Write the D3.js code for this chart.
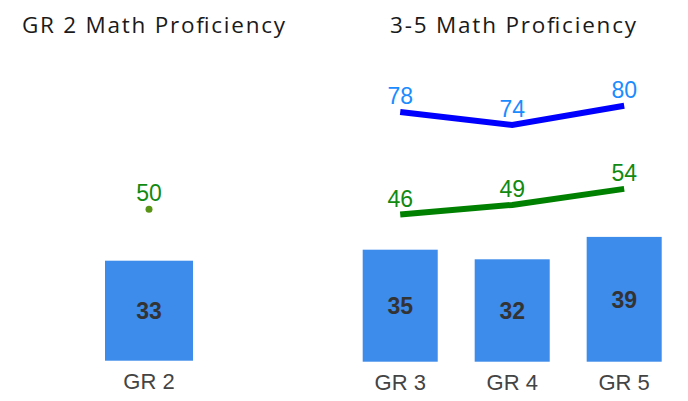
<!DOCTYPE html>
<html>
<head>
<meta charset="utf-8">
<script src="https://cdn.jsdelivr.net/npm/d3@7"></script>
<style>
  body { margin: 0; background: #fff; }
  text { font-family: "Liberation Sans", Arial, sans-serif; }
  text.title { font-family: "Open Sans", "DejaVu Sans", sans-serif; }
</style>
</head>
<body>
<div id="chart"></div>
<script>
// left panel data
const gr2Cats = ["GR 2"];
const gr2Bars = [33];
const gr2Dot = [50];

// right panel data
const g35Cats = ["GR 3", "GR 4", "GR 5"];
const g35Bars = [35, 32, 39];
const g35Green = [46, 49, 54];
const g35Blue = [78, 74, 80];

const W = 688, H = 401;
const svg = d3.select("#chart").append("svg")
  .attr("width", W).attr("height", H);

const barColor = "#3d8beb";

function panel(opt) {
  const g = svg.append("g");
  const x = d3.scaleBand().domain(opt.cats).range(opt.xr).paddingInner(opt.pad).paddingOuter(0);
  const y = d3.scaleLinear().domain([0, 100]).range([opt.base, opt.base - opt.pxPer * 100]);

  // title
  g.append("text")
    .attr("class", "title")
    .attr("x", opt.titleX).attr("y", 33)
    .attr("text-anchor", "middle")
    .attr("font-size", 22.5)
    .attr("fill", "#1a1a1a")
    .attr("textLength", opt.titleW)
    .attr("lengthAdjust", "spacing")
    .text(opt.title);

  // bars
  g.selectAll("rect.bar").data(opt.bars).join("rect")
    .attr("class", "bar")
    .attr("x", (d, i) => x(opt.cats[i]))
    .attr("y", d => y(d))
    .attr("width", x.bandwidth())
    .attr("height", d => y(0) - y(d))
    .attr("fill", barColor);

  g.selectAll("text.barval").data(opt.bars).join("text")
    .attr("class", "barval")
    .attr("x", (d, i) => x(opt.cats[i]) + x.bandwidth() / 2)
    .attr("y", d => (y(d) + y(0)) / 2)
    .attr("dy", "0.36em")
    .attr("text-anchor", "middle")
    .attr("font-size", 23).attr("font-weight", "bold")
    .attr("fill", "#333")
    .text(d => d);

  // category labels
  g.selectAll("text.cat").data(opt.cats).join("text")
    .attr("class", "cat")
    .attr("x", d => x(d) + x.bandwidth() / 2)
    .attr("y", opt.base + 28)
    .attr("text-anchor", "middle")
    .attr("font-size", 22)
    .attr("fill", "#444")
    .text(d => d);

  // lines
  (opt.lines || []).forEach(ln => {
    const line = d3.line()
      .x((d, i) => x(opt.cats[i]) + x.bandwidth() / 2)
      .y(d => y(d));
    if (ln.vals.length > 1) {
      g.append("path").datum(ln.vals)
        .attr("d", line)
        .attr("fill", "none")
        .attr("stroke", ln.color)
        .attr("stroke-width", 6);
    } else {
      g.append("circle")
        .attr("cx", x(opt.cats[0]) + x.bandwidth() / 2)
        .attr("cy", y(ln.vals[0]))
        .attr("r", 3.5)
        .attr("fill", ln.dot);
    }
    g.selectAll(null).data(ln.vals).join("text")
      .attr("x", (d, i) => x(opt.cats[i]) + x.bandwidth() / 2)
      .attr("y", d => y(d) - 8)
      .attr("text-anchor", "middle")
      .attr("font-size", 23)
      .attr("fill", ln.label)
      .text(d => d);
  });
}

panel({
  title: "GR 2 Math Proficiency", titleX: 153.5, titleW: 263,
  cats: gr2Cats, bars: gr2Bars, xr: [105, 193], pad: 0,
  base: 360.7, pxPer: 3.03,
  lines: [{ vals: gr2Dot, color: "#008000", dot: "#5a9416", label: "#118a11" }]
});

panel({
  title: "3-5 Math Proficiency", titleX: 513, titleW: 246,
  cats: g35Cats, bars: g35Bars, xr: [362.7, 661.7], pad: 0.33,
  base: 361.7, pxPer: 3.2,
  lines: [
    { vals: g35Blue, color: "#0000ff", label: "#1a8cff" },
    { vals: g35Green, color: "#008000", label: "#118a11" }
  ]
});
</script>
</body>
</html>
